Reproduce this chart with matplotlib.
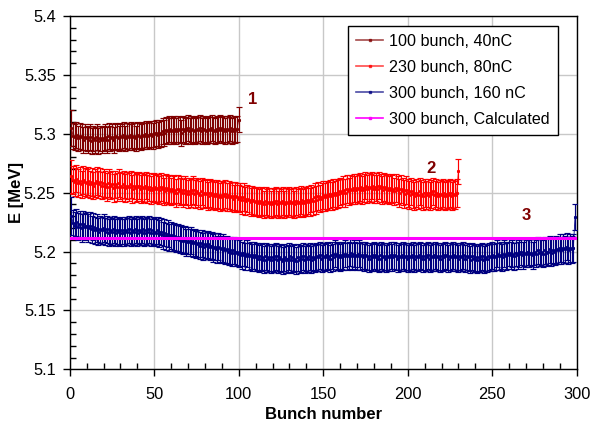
import numpy as np
import matplotlib
matplotlib.use("Agg")
import matplotlib.pyplot as plt
from matplotlib.lines import Line2D
from matplotlib.ticker import MultipleLocator, FuncFormatter

plt.rcParams['font.family'] = ['Liberation Sans', 'DejaVu Sans']

# ---------------- data ----------------
labels = ["100 bunch, 40nC", "230 bunch, 80nC", "300 bunch, 160 nC", "300 bunch, Calculated"]
colors = ["#800000", "#ff0000", "#000080", "#ff00ff"]

e100 = [5.305,
        5.298, 5.297, 5.299, 5.296, 5.298, 5.297, 5.295, 5.297, 5.296,
        5.295, 5.297, 5.294, 5.296, 5.295, 5.297, 5.294, 5.296, 5.295, 5.296,
        5.297, 5.295, 5.298, 5.296, 5.297, 5.295, 5.298, 5.297, 5.296, 5.298,
        5.297, 5.299, 5.296, 5.298, 5.297, 5.299, 5.297, 5.298, 5.296, 5.299,
        5.298, 5.297, 5.299, 5.298, 5.300, 5.298, 5.299, 5.300, 5.298, 5.300,
        5.301, 5.299, 5.301, 5.300, 5.302, 5.301, 5.303, 5.302, 5.304, 5.302,
        5.303, 5.304, 5.302, 5.304, 5.303, 5.301, 5.304, 5.302, 5.303, 5.305,
        5.302, 5.304, 5.303, 5.302, 5.304, 5.303, 5.305, 5.302, 5.304, 5.303,
        5.302, 5.304, 5.303, 5.305, 5.303, 5.302, 5.304, 5.303, 5.305, 5.303,
        5.304, 5.302, 5.304, 5.303, 5.305, 5.302, 5.304, 5.303, 5.304,
        5.312]
err100 = [0.0155] + [0.011] * 98 + [0.0105]

e230 = [5.264,
        5.261, 5.259, 5.262, 5.258, 5.260, 5.257, 5.261, 5.259, 5.258,
        5.260, 5.257, 5.259, 5.256, 5.258, 5.260, 5.257, 5.259, 5.256, 5.258,
        5.257, 5.255, 5.258, 5.256, 5.257, 5.254, 5.257, 5.255, 5.258, 5.256,
        5.255, 5.257, 5.254, 5.256, 5.255, 5.257, 5.253, 5.256, 5.254, 5.255,
        5.256, 5.253, 5.255, 5.254, 5.256, 5.253, 5.255, 5.252, 5.254, 5.255,
        5.253, 5.254, 5.252, 5.255, 5.253, 5.251, 5.254, 5.252, 5.253, 5.251,
        5.253, 5.252, 5.250, 5.253, 5.251, 5.252, 5.250, 5.252, 5.251, 5.249,
        5.251, 5.250, 5.252, 5.249, 5.251, 5.250, 5.248, 5.251, 5.249, 5.250,
        5.249, 5.247, 5.250, 5.248, 5.249, 5.247, 5.249, 5.248, 5.246, 5.248,
        5.247, 5.249, 5.246, 5.248, 5.246, 5.247, 5.245, 5.247, 5.246, 5.245,
        5.246, 5.244, 5.246, 5.243, 5.245, 5.244, 5.242, 5.244, 5.243, 5.242,
        5.243, 5.241, 5.243, 5.242, 5.240, 5.243, 5.241, 5.242, 5.240, 5.242,
        5.241, 5.243, 5.240, 5.242, 5.241, 5.243, 5.240, 5.242, 5.241, 5.243,
        5.241, 5.242, 5.240, 5.243, 5.241, 5.242, 5.244, 5.241, 5.243, 5.242,
        5.244, 5.242, 5.245, 5.243, 5.246, 5.244, 5.247, 5.245, 5.246, 5.248,
        5.246, 5.248, 5.247, 5.249, 5.247, 5.250, 5.248, 5.250, 5.249, 5.251,
        5.250, 5.252, 5.250, 5.253, 5.251, 5.253, 5.252, 5.254, 5.252, 5.254,
        5.253, 5.255, 5.252, 5.254, 5.256, 5.253, 5.255, 5.254, 5.256, 5.253,
        5.255, 5.253, 5.256, 5.254, 5.252, 5.255, 5.253, 5.254, 5.252, 5.254,
        5.253, 5.251, 5.254, 5.252, 5.250, 5.253, 5.251, 5.249, 5.252, 5.250,
        5.248, 5.251, 5.249, 5.247, 5.250, 5.248, 5.251, 5.249, 5.247, 5.250,
        5.248, 5.250, 5.247, 5.249, 5.251, 5.248, 5.250, 5.247, 5.249, 5.248,
        5.250, 5.247, 5.249, 5.248, 5.250, 5.247, 5.249, 5.248, 5.250,
        5.268]
err230 = [0.014] + [0.0118] * 228 + [0.0105]

e300 = [5.230,
        5.224, 5.222, 5.225, 5.221, 5.223, 5.220, 5.223, 5.221, 5.222,
        5.220, 5.222, 5.219, 5.221, 5.218, 5.220, 5.217, 5.219, 5.218, 5.220,
        5.217, 5.219, 5.216, 5.218, 5.217, 5.219, 5.216, 5.218, 5.217, 5.216,
        5.218, 5.216, 5.218, 5.217, 5.219, 5.216, 5.218, 5.217, 5.219, 5.216,
        5.218, 5.217, 5.219, 5.216, 5.218, 5.217, 5.219, 5.216, 5.218, 5.217,
        5.216, 5.218, 5.215, 5.217, 5.214, 5.216, 5.213, 5.215, 5.212, 5.214,
        5.212, 5.213, 5.211, 5.212, 5.210, 5.211, 5.209, 5.210, 5.208, 5.209,
        5.208, 5.209, 5.207, 5.208, 5.206, 5.207, 5.205, 5.207, 5.204, 5.206,
        5.205, 5.206, 5.204, 5.205, 5.203, 5.204, 5.202, 5.204, 5.203, 5.202,
        5.203, 5.201, 5.202, 5.200, 5.201, 5.199, 5.201, 5.199, 5.200, 5.198,
        5.199, 5.197, 5.199, 5.196, 5.198, 5.196, 5.197, 5.195, 5.197, 5.195,
        5.196, 5.194, 5.196, 5.195, 5.193, 5.196, 5.194, 5.195, 5.193, 5.195,
        5.194, 5.196, 5.193, 5.195, 5.194, 5.192, 5.195, 5.193, 5.194, 5.196,
        5.193, 5.195, 5.194, 5.192, 5.195, 5.193, 5.194, 5.196, 5.193, 5.195,
        5.194, 5.196, 5.193, 5.195, 5.194, 5.196, 5.195, 5.197, 5.194, 5.196,
        5.195, 5.197, 5.196, 5.194, 5.197, 5.195, 5.198, 5.196, 5.197, 5.195,
        5.197, 5.196, 5.198, 5.196, 5.197, 5.199, 5.196, 5.198, 5.197, 5.196,
        5.198, 5.196, 5.197, 5.195, 5.197, 5.196, 5.194, 5.196, 5.195, 5.197,
        5.195, 5.196, 5.194, 5.197, 5.195, 5.196, 5.194, 5.196, 5.195, 5.197,
        5.195, 5.197, 5.196, 5.194, 5.196, 5.195, 5.197, 5.195, 5.196, 5.194,
        5.196, 5.195, 5.197, 5.194, 5.196, 5.195, 5.197, 5.196, 5.194, 5.196,
        5.195, 5.197, 5.194, 5.196, 5.195, 5.197, 5.195, 5.196, 5.194, 5.196,
        5.195, 5.197, 5.196, 5.194, 5.196, 5.195, 5.197, 5.195, 5.196, 5.194,
        5.196, 5.195, 5.197, 5.194, 5.196, 5.195, 5.193, 5.196, 5.194, 5.195,
        5.193, 5.195, 5.194, 5.196, 5.193, 5.195, 5.194, 5.196, 5.195, 5.197,
        5.195, 5.196, 5.198, 5.196, 5.197, 5.195, 5.198, 5.196, 5.197, 5.199,
        5.197, 5.198, 5.196, 5.199, 5.197, 5.198, 5.200, 5.197, 5.199, 5.198,
        5.200, 5.198, 5.199, 5.197, 5.200, 5.198, 5.201, 5.199, 5.200, 5.198,
        5.201, 5.199, 5.200, 5.202, 5.199, 5.201, 5.200, 5.202, 5.201, 5.203,
        5.201, 5.203, 5.202, 5.204, 5.201, 5.203, 5.202, 5.203,
        5.229]
err300 = [0.016] + [0.0115] * 297 + [0.011]

calc_x = [0, 300]
calc_y = [5.2115, 5.2115]

annot_text = ["1", "2", "3"]
annot_x = [108, 214, 270]
annot_y = [5.3287, 5.2707, 5.231]

xticks = [0, 50, 100, 150, 200, 250, 300]
yticks = [5.1, 5.15, 5.2, 5.25, 5.3, 5.35, 5.4]

# ---------------- plot ----------------
fig = plt.figure(figsize=(5.91, 4.29), dpi=100)
ax = fig.add_axes([69.7 / 591, 1 - 369.3 / 429, (576.7 - 69.7) / 591, (369.3 - 16) / 429])

series = [(e100, err100), (e230, err230), (e300, err300)]
for (vals, errs), c in zip(series, colors[:3]):
    x = np.arange(1, len(vals) + 1)
    ax.errorbar(x, vals, yerr=errs, fmt='-', color=c, lw=0.6,
                marker='s', ms=1.2, ecolor=c, elinewidth=0.85,
                capsize=2.2, capthick=0.85, zorder=3)

ax.plot(calc_x, calc_y, color=colors[3], lw=2.2, zorder=4)

for t, xx, yy in zip(annot_text, annot_x, annot_y):
    ax.text(xx, yy, t, color="#800000", fontsize=12, fontweight='bold',
            ha='center', va='center', zorder=5)

ax.set_xlim(0, 300)
ax.set_ylim(5.1, 5.4)
ax.set_xticks(xticks)
ax.set_yticks(yticks)
ax.xaxis.set_minor_locator(MultipleLocator(10))
ax.yaxis.set_minor_locator(MultipleLocator(0.01))
ax.yaxis.set_major_formatter(FuncFormatter(lambda v, p: "%g" % round(v, 3)))
ax.tick_params(which='major', direction='out', length=5, width=1,
               labelsize=11.8, colors='black')
ax.tick_params(which='minor', direction='in', length=4, width=1)
ax.tick_params(axis='x', which='major', pad=8)
ax.tick_params(axis='y', which='major', pad=5)
ax.grid(True, which='major', color='#c8c8c8', lw=1, zorder=0)
ax.set_axisbelow(True)
for s in ax.spines.values():
    s.set_color('black')
    s.set_linewidth(1)

ax.set_xlabel("Bunch number", fontsize=12, fontweight='bold')
ax.xaxis.set_label_coords(0.5, -(407 - 369.3) / 353.3)
ax.set_ylabel("E [MeV]", fontsize=12, fontweight='bold')
ax.yaxis.set_label_coords((24 - 69.7) / 507, 0.5)

handles = [Line2D([], [], color=c, lw=1.2, alpha=0.7 if i < 3 else 1,
                  marker='s', ms=1.5) for i, c in enumerate(colors)]
leg = ax.legend(handles, labels, loc='upper right',
                bbox_to_anchor=(558 / 591, 1 - 25.7 / 429),
                bbox_transform=fig.transFigure, borderaxespad=0,
                fontsize=11.6, frameon=True, fancybox=False, framealpha=1,
                edgecolor='black', handlelength=1.65, handletextpad=0.4,
                labelspacing=0.68, borderpad=0.5)
leg.get_frame().set_linewidth(1)

fig.savefig("out.png", dpi=100)
